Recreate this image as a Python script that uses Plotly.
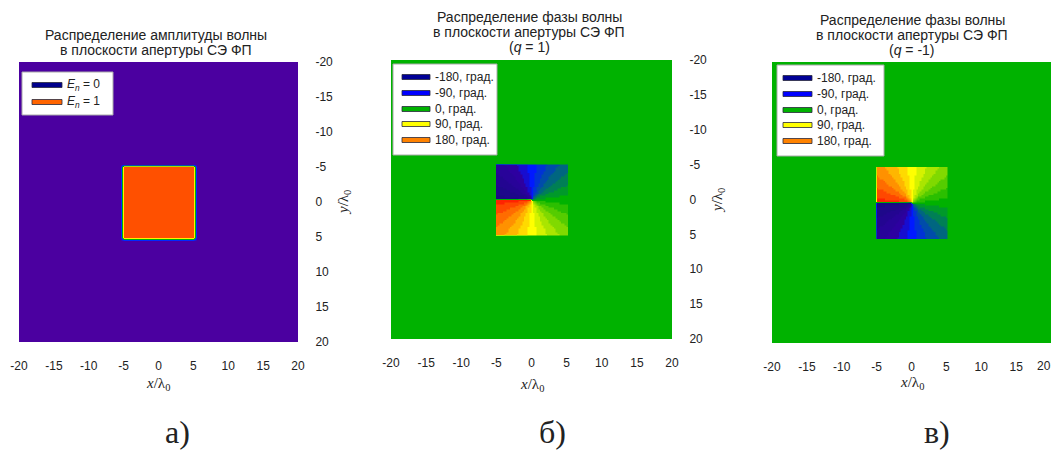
import numpy as np
import plotly.graph_objects as go

OFFSET = 8  # page body margin of the browser
W, H = 1061 - 2 * OFFSET, 452 - OFFSET

# ---------------- data ----------------
AXIS_TICKS = [-20, -15, -10, -5, 0, 5, 10, 15, 20]
AXIS_TICK_TEXT = ["-20", "-15", "-10", "-5", "0", "5", "10", "15", "20"]
FIELD_LIMITS = [-20, 20]
APERTURE_X = [-5, 5]          # aperture extent along x/λ0
APERTURE_Y = [-5, 5]          # aperture extent along y/λ0
AMPLITUDE_LEVELS = [0, 1]     # outside / inside the aperture
CHARGES = [1, -1]             # q for panels б) and в)
PHASE_STEP_DEG = 15           # phase quantisation step
AMP_GRID_STEP = 0.5
PHASE_GRID_STEP = 0.25

TITLES = [
    ["Распределение амплитуды волны", "в плоскости апертуры СЭ ФП"],
    ["Распределение фазы волны", "в плоскости апертуры СЭ ФП", "(<i>q</i> = 1)"],
    ["Распределение фазы волны", "в плоскости апертуры СЭ ФП", "(<i>q</i> = -1)"],
]
PANEL_LABELS = ["а)", "б)", "в)"]
AMP_LEGEND_LABELS = ["<i>E<sub>n</sub></i> = 0", "<i>E<sub>n</sub></i> = 1"]
PHASE_LEGEND_LABELS = ["-180, град.", "-90, град.", "0, град.", "90, град.", "180, град."]

# ---------------- styles ----------------
AMP_COLORSCALE = [
    [0.0, "rgb(75,0,160)"],
    [0.25, "rgb(0,40,255)"],
    [0.5, "rgb(0,178,0)"],
    [0.75, "rgb(255,240,0)"],
    [1.0, "rgb(255,80,0)"],
]
PHASE_COLORSCALE = [
    [0.0, "rgb(25,10,130)"],
    [1/6, "rgb(45,0,160)"],
    [0.25, "rgb(0,25,255)"],
    [0.5, "rgb(0,178,0)"],
    [0.75, "rgb(255,255,0)"],
    [1.0, "rgb(255,35,0)"],
]
AMP_LEGEND_COLORS = ["rgb(0,0,140)", "rgb(255,100,0)"]
PHASE_LEGEND_COLORS = ["rgb(0,0,150)", "rgb(0,0,255)", "rgb(0,178,0)", "rgb(255,255,0)", "rgb(255,130,0)"]

# panel plot-area boxes in page pixels (x0, x1, y0, y1)
BOXES = [(19, 298, 62, 342), (391, 672, 60, 339), (772, 1051, 62, 343)]
X_TICKROW_Y = 366


def px(x):
    return (x - OFFSET) / W


def py(y):
    return 1 - (y - OFFSET) / H


# ---------------- fields ----------------
xa = np.arange(FIELD_LIMITS[0], FIELD_LIMITS[1] + 1e-9, AMP_GRID_STEP)
XA, YA = np.meshgrid(xa, xa)
inside_a = (XA >= APERTURE_X[0]) & (XA <= APERTURE_X[1]) & (YA >= APERTURE_Y[0]) & (YA <= APERTURE_Y[1])
amp = np.where(inside_a, AMPLITUDE_LEVELS[1], AMPLITUDE_LEVELS[0]).astype(float)

xp = np.arange(FIELD_LIMITS[0], FIELD_LIMITS[1] + 1e-9, PHASE_GRID_STEP)
XP, YP = np.meshgrid(xp, xp)
inside_p = (XP >= APERTURE_X[0]) & (XP <= APERTURE_X[1]) & (YP >= APERTURE_Y[0]) & (YP <= APERTURE_Y[1])
phases = []
for q in CHARGES:
    ph = q * np.degrees(np.arctan2(YP, XP))
    ph = np.clip(np.round(ph / PHASE_STEP_DEG) * PHASE_STEP_DEG, -180, 180)
    phases.append(np.where(inside_p, ph, 0.0))

fig = go.Figure()

fig.add_trace(go.Heatmap(x=xa, y=xa, z=amp, zmin=0, zmax=1, colorscale=AMP_COLORSCALE,
                         zsmooth="best", showscale=False, hoverinfo="skip",
                         xaxis="x", yaxis="y"))
for i, ph in enumerate(phases):
    fig.add_trace(go.Heatmap(x=xp, y=xp, z=ph, zmin=-180, zmax=180, colorscale=PHASE_COLORSCALE,
                             zsmooth="best", showscale=False, hoverinfo="skip",
                             xaxis=f"x{i + 2}", yaxis=f"y{i + 2}"))

tickfont = dict(family="Liberation Sans, Arial, sans-serif", size=12, color="#222")
layout = dict(width=W, height=H, margin=dict(l=0, r=0, t=0, b=0, autoexpand=False),
              paper_bgcolor="white", plot_bgcolor="white", showlegend=False)

for i, (x0, x1, y0, y1) in enumerate(BOXES):
    sfx = "" if i == 0 else str(i + 1)
    last = i == len(BOXES) - 1
    # the last panel's right-most tick label sits at the page edge: drawn below, right-aligned
    tv = AXIS_TICKS[:-1] if last else AXIS_TICKS
    tt = AXIS_TICK_TEXT[:-1] if last else AXIS_TICK_TEXT
    layout["xaxis" + sfx] = dict(domain=[px(x0), px(x1)], range=FIELD_LIMITS, anchor="y" + sfx,
                                 tickvals=tv, ticktext=tt, ticks="outside", ticklen=13,
                                 tickcolor="rgba(0,0,0,0)", showgrid=False, zeroline=False,
                                 showline=False, tickfont=tickfont, fixedrange=True, automargin=False,
                                 ticklabeloverflow="allow")
    layout["yaxis" + sfx] = dict(domain=[py(y1), py(y0)], range=[FIELD_LIMITS[1], FIELD_LIMITS[0]],
                                 anchor="x" + sfx, side="right",
                                 tickvals=AXIS_TICKS, ticktext=AXIS_TICK_TEXT, ticks="outside", ticklen=14,
                                 tickcolor="rgba(0,0,0,0)", showgrid=False, zeroline=False,
                                 showline=False, tickfont=tickfont, fixedrange=True,
                                 showticklabels=not last, automargin=False)

fig.update_layout(**layout)

ann = []
shapes = []

ann.append(dict(x=AXIS_TICKS[-1], y=py(X_TICKROW_Y), xref="x3", yref="paper", text=AXIS_TICK_TEXT[-1],
                showarrow=False, xanchor="right", yanchor="middle", xshift=2, font=tickfont))

title_font = dict(family="Liberation Sans, Arial, sans-serif", size=14, color="#222")
title_pos = [(156, [35, 50]), (529, [17, 32, 47]), (912, [20, 35, 50])]
for (cx, ys), lines in zip(title_pos, TITLES):
    for yy, t in zip(ys, lines):
        ann.append(dict(x=px(cx), y=py(yy), xref="paper", yref="paper", text=t, showarrow=False,
                        xanchor="center", yanchor="middle", font=title_font))

axis_font = dict(family="Liberation Serif, Times New Roman, serif", size=15, color="#222")
for cx, cy in [(158, 384), (532, 385), (912, 383)]:
    ann.append(dict(x=px(cx), y=py(cy), xref="paper", yref="paper", text="<i>x</i>/λ<sub>0</sub>",
                    showarrow=False, xanchor="center", yanchor="middle", font=axis_font))
for cx, cy in [(344, 203), (718, 201)]:
    ann.append(dict(x=px(cx), y=py(cy), xref="paper", yref="paper", text="<i>y</i>/λ<sub>0</sub>",
                    showarrow=False, xanchor="center", yanchor="middle", textangle=-90, font=axis_font))

label_font = dict(family="Liberation Serif, Times New Roman, serif", size=32, color="#222")
for cx, t in zip([177, 552, 937], PANEL_LABELS):
    ann.append(dict(x=px(cx), y=py(432), xref="paper", yref="paper", text=t, showarrow=False,
                    xanchor="center", yanchor="middle", font=label_font))

# legends
legend_font = dict(family="Liberation Sans, Arial, sans-serif", size=12, color="#222")


def add_legend(bx0, bx1, by0, by1, rows, colors, labels, barx0, barx1, textx):
    shapes.append(dict(type="rect", xref="paper", yref="paper", x0=px(bx0), x1=px(bx1),
                       y0=py(by1), y1=py(by0), fillcolor="white", line=dict(color="#aaa", width=1)))
    for ry, c, t in zip(rows, colors, labels):
        shapes.append(dict(type="rect", xref="paper", yref="paper", x0=px(barx0), x1=px(barx1),
                           y0=py(ry + 2.5), y1=py(ry - 2.5), fillcolor=c,
                           line=dict(color="rgba(40,40,60,0.8)", width=1)))
        ann.append(dict(x=px(textx), y=py(ry), xref="paper", yref="paper", text=t, showarrow=False,
                        xanchor="left", yanchor="middle", font=legend_font))


add_legend(22, 113, 72, 115, [85, 102], AMP_LEGEND_COLORS, AMP_LEGEND_LABELS, 32, 62, 65)
add_legend(393, 497, 64, 155, [77, 93, 109, 124, 140], PHASE_LEGEND_COLORS, PHASE_LEGEND_LABELS, 402, 430, 433)
add_legend(777, 884, 65, 156, [78, 94, 110, 125, 141], PHASE_LEGEND_COLORS, PHASE_LEGEND_LABELS, 783, 812, 815)

fig.update_layout(annotations=ann, shapes=shapes)
fig.write_html("out.html")
